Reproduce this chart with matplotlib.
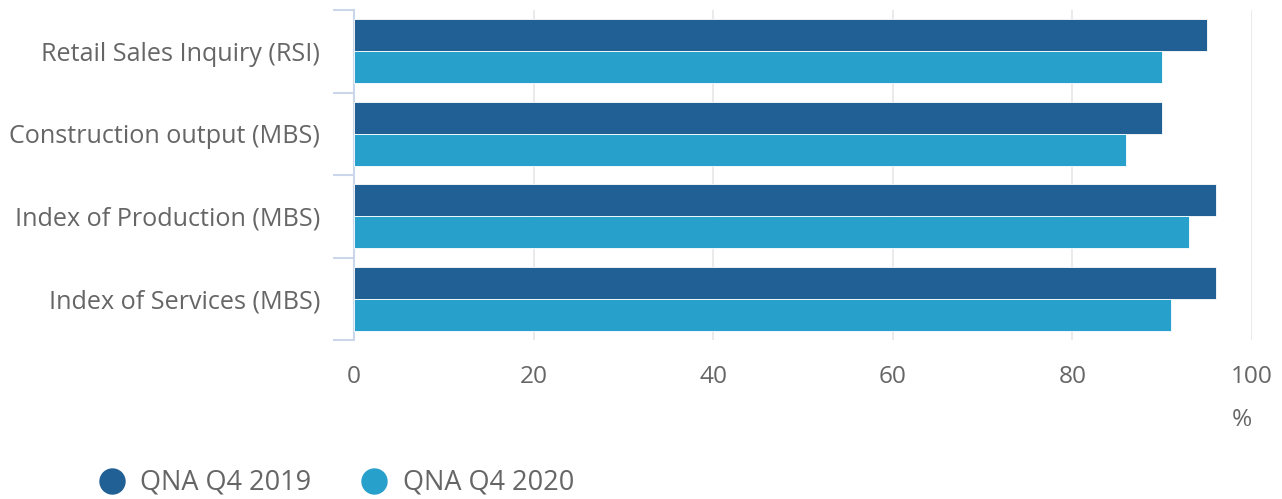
import matplotlib
matplotlib.use("Agg")
import matplotlib.pyplot as plt
from matplotlib.lines import Line2D
import numpy as np

plt.rcParams["font.family"] = ["Open Sans", "DejaVu Sans"]

categories = [
    "Retail Sales Inquiry (RSI)",
    "Construction output (MBS)",
    "Index of Production (MBS)",
    "Index of Services (MBS)",
]
series_names = ["QNA Q4 2019", "QNA Q4 2020"]
q4_2019 = [95, 90, 96, 96]
q4_2020 = [90, 86, 93, 91]
colors = ["#206095", "#27a0cc"]
x_ticks = [0, 20, 40, 60, 80, 100]

TEXT = "#666666"
AXIS = "#ccd6eb"
GRID = "#e6e6e6"

fig = plt.figure(figsize=(12.82, 4.99), dpi=100)
ax = fig.add_axes([354 / 1282, 1 - 340 / 499, (1252 - 354) / 1282, 330 / 499])

y = np.arange(len(categories))
h = 0.388
ax.barh(y - h / 2, q4_2019, height=h, color=colors[0], edgecolor="white",
        linewidth=0.6, zorder=3)
ax.barh(y + h / 2, q4_2020, height=h, color=colors[1], edgecolor="white",
        linewidth=0.6, zorder=3)

ax.set_xlim(0, 100)
ax.set_ylim(len(categories) - 0.5, -0.5)
ax.set_xticks(x_ticks)
ax.set_xticklabels([str(t) for t in x_ticks], fontsize=17.6, color=TEXT)
ax.tick_params(axis="x", length=0, pad=18)
ax.grid(axis="x", color=GRID, lw=1.2, zorder=0)

ax.set_yticks(y)
ax.set_yticklabels(categories, fontsize=18.1, color=TEXT)
ax.set_yticks(np.arange(len(categories) + 1) - 0.5, minor=True)
ax.tick_params(axis="y", which="major", length=0, pad=24.5)
ax.tick_params(axis="y", which="minor", length=15, width=1.5, color=AXIS)

for s in ["top", "right", "bottom"]:
    ax.spines[s].set_visible(False)
ax.spines["left"].set_color(AXIS)
ax.spines["left"].set_linewidth(1.5)

fig.text(1242 / 1282, 1 - 420 / 499, "%", fontsize=17.6, color=TEXT,
         ha="center", va="center")

# legend
for cx, tx, name, c in zip([112, 374], [140, 403], series_names, colors):
    fig.add_artist(Line2D([cx / 1282], [1 - 481 / 499], marker="o",
                          markersize=18, color=c, transform=fig.transFigure))
    fig.text(tx / 1282, 1 - 482 / 499, name, fontsize=19.5, color=TEXT,
             ha="left", va="center")

fig.savefig("out.png", dpi=100)
